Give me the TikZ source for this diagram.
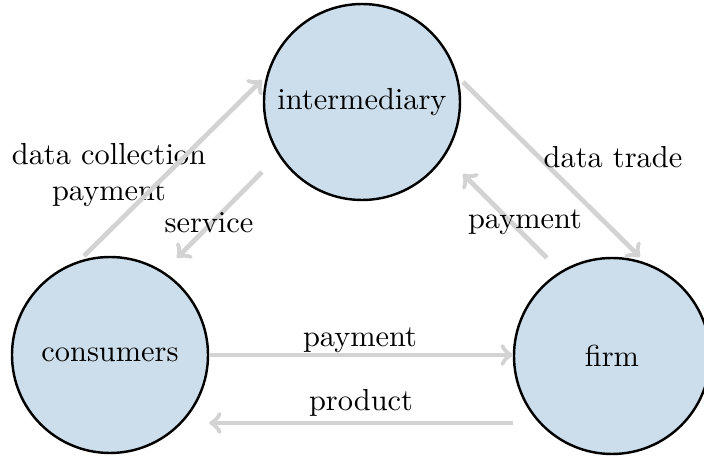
\documentclass[tikz,border=0pt]{standalone}
\usetikzlibrary{calc}
\definecolor{nodefill}{RGB}{204,222,235}
\definecolor{arrowgray}{RGB}{211,211,211}
\begin{document}
\begin{tikzpicture}[x=0.329pt,y=-0.329pt,
  agent/.style={circle,draw=black,line width=0.8pt,fill=nodefill,minimum size=196*0.329pt,inner sep=0pt},
  flow/.style={draw=arrowgray,line width=1.55pt,->},
  lbl/.style={inner sep=0pt,align=center}]
\useasboundingbox (0,0) rectangle (704,456);
\node[agent] (inter) at (362,102) {intermediary};
\node[agent] (cons) at (110,355) {consumers};
\node[agent] (firm) at (612,356) {firm};
% label drawn beneath its arrow
\node[lbl] (l1) at (109,175) {data collection\\payment};
% flows
\draw[flow] ($(cons.center)+(-26,-99)$) -- ($(inter.center)+(-100,-22)$);
\draw[flow] ($(inter.center)+(-100,70)$) -- ($(cons.center)+(67,-97)$);
\draw[flow] ($(inter.center)+(101,-20)$) -- ($(firm.center)+(28,-99)$);
\draw[flow] ($(firm.center)+(-65,-98)$) -- ($(inter.center)+(101,72)$);
\draw[flow] (cons.east) -- (cons.east -| firm.west);
\coordinate (pstart) at ($(firm.west)+(0,67)$);
\draw[flow] (pstart) -- (pstart -| cons.east);
% labels
\node[lbl] (l2) at (209,223) {service};
\node[lbl] (l3) at (613,157) {data trade};
\node[lbl] (l4) at (525,222) {payment};
\node[lbl] (l5) at (360,340) {payment};
\node[lbl] (l6) at (361,403) {product};
\end{tikzpicture}
\end{document}
